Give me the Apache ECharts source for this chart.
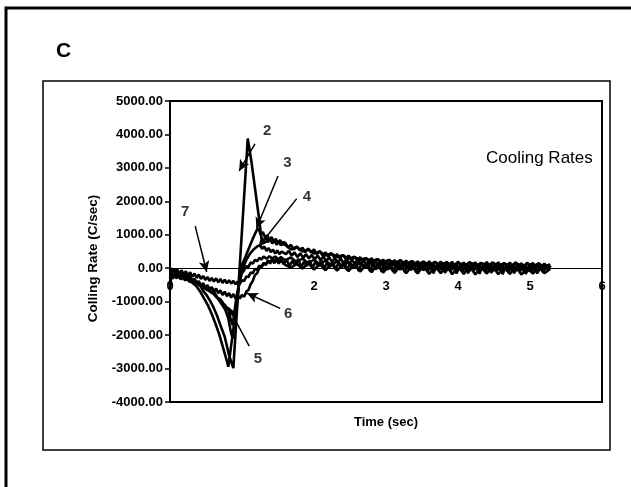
<!DOCTYPE html>
<html>
<head>
<meta charset="utf-8">
<script src="https://cdn.jsdelivr.net/npm/echarts@6/dist/echarts.min.js"></script>
<style>
html,body{margin:0;padding:0;background:#fff;}
#chart{width:631px;height:487px;}
</style>
</head>
<body>
<div id="chart"></div>
<script>
// ---- axis ticks ----
const yTicks = [-4000, -3000, -2000, -1000, 0, 1000, 2000, 3000, 4000, 5000];
const xTicks = [0, 1, 2, 3, 4, 5, 6];

// ---- transient part of each cooling-rate curve: [time (s), rate (C/s)] ----
const curve2 = [[0,-650],[0.02,-180],[0.04,-60],[0.06,-200],[0.09,-90],[0.12,-230],[0.15,-120],[0.18,-270],[0.21,-170],[0.24,-310],[0.27,-230],[0.30,-360],[0.34,-330],[0.38,-470],[0.42,-520],[0.46,-680],[0.50,-780],[0.55,-950],[0.60,-1150],[0.65,-1400],[0.70,-1700],[0.76,-2050],[0.82,-2600],[0.88,-2985],[0.93,-1270],[0.98,450],[1.03,2160],[1.08,3880],[1.13,3200],[1.18,2400],[1.23,1600],[1.27,900],[1.30,820],[1.33,930],[1.36,780],[1.39,880],[1.42,740],[1.45,840],[1.48,700],[1.51,800],[1.54,680],[1.57,780]];
const curve3 = [[0,-300],[0.02,-100],[0.04,-220],[0.06,-60],[0.09,-200],[0.12,-90],[0.15,-250],[0.18,-150],[0.21,-320],[0.24,-230],[0.27,-380],[0.30,-420],[0.36,-520],[0.42,-700],[0.48,-930],[0.53,-1120],[0.58,-1370],[0.63,-1650],[0.68,-1950],[0.72,-2250],[0.76,-2550],[0.79,-2780],[0.81,-2945],[0.83,-2900],[0.85,-2300],[0.89,-1700],[0.93,-1100],[0.97,-200],[1.00,100],[1.05,350],[1.10,620],[1.15,880],[1.20,1120],[1.23,1200],[1.26,1000],[1.29,1080],[1.32,920],[1.35,980],[1.38,850],[1.41,930],[1.44,800],[1.47,880],[1.50,760],[1.53,840],[1.56,720]];
const curve4 = [[0,-500],[0.02,-200],[0.04,-320],[0.06,-150],[0.09,-310],[0.12,-180],[0.15,-340],[0.18,-230],[0.21,-370],[0.24,-270],[0.27,-400],[0.30,-350],[0.36,-420],[0.42,-520],[0.48,-600],[0.54,-680],[0.60,-760],[0.66,-900],[0.72,-1080],[0.77,-1250],[0.81,-1500],[0.85,-1950],[0.87,-2100],[0.90,-1500],[0.93,-900],[0.97,-350],[1.01,0],[1.06,250],[1.11,430],[1.16,560],[1.21,650],[1.25,690],[1.28,580],[1.31,650],[1.34,520],[1.37,600],[1.40,480],[1.43,560],[1.46,440],[1.49,530],[1.52,420],[1.55,500]];
const curve5 = [[0,-400],[0.02,-150],[0.04,-260],[0.06,-160],[0.09,-290],[0.12,-190],[0.15,-320],[0.18,-230],[0.21,-360],[0.24,-280],[0.27,-410],[0.30,-330],[0.34,-460],[0.38,-400],[0.42,-540],[0.46,-500],[0.50,-620],[0.54,-600],[0.58,-730],[0.62,-740],[0.66,-880],[0.70,-930],[0.74,-1050],[0.77,-1120],[0.81,-1250],[0.84,-1500],[0.87,-1700],[0.89,-1400],[0.92,-900],[0.96,-450],[1.00,-150],[1.03,-60],[1.06,60],[1.09,40],[1.12,170],[1.15,140],[1.18,250],[1.21,210],[1.24,310],[1.27,260],[1.30,350],[1.34,280],[1.38,360],[1.42,290],[1.46,350],[1.50,270],[1.54,330]];
const curve6 = [[0,-200],[0.02,-80],[0.04,-200],[0.06,-100],[0.08,-250],[0.10,-140],[0.13,-290],[0.16,-180],[0.19,-330],[0.22,-220],[0.25,-370],[0.28,-270],[0.31,-420],[0.34,-320],[0.37,-470],[0.40,-380],[0.43,-530],[0.46,-440],[0.49,-590],[0.52,-500],[0.55,-640],[0.58,-560],[0.61,-700],[0.64,-610],[0.67,-750],[0.70,-660],[0.73,-800],[0.76,-700],[0.79,-840],[0.82,-740],[0.85,-880],[0.88,-770],[0.91,-900],[0.94,-800],[0.97,-910],[1.00,-800],[1.03,-850],[1.06,-700],[1.09,-650],[1.12,-480],[1.15,-380],[1.18,-200],[1.21,-150],[1.24,0],[1.27,20],[1.30,140],[1.33,110],[1.36,230],[1.39,180],[1.42,280],[1.45,200],[1.48,300],[1.51,210],[1.54,280]];
const curve7 = [[0,-100],[0.02,0],[0.04,-90],[0.06,-20],[0.08,-130],[0.10,-40],[0.13,-160],[0.16,-60],[0.19,-190],[0.22,-90],[0.25,-230],[0.28,-120],[0.31,-260],[0.34,-160],[0.37,-290],[0.40,-190],[0.43,-320],[0.46,-230],[0.49,-350],[0.52,-260],[0.55,-380],[0.58,-290],[0.61,-400],[0.64,-300],[0.67,-420],[0.70,-320],[0.73,-440],[0.76,-340],[0.79,-450],[0.82,-360],[0.85,-460],[0.88,-380],[0.91,-480],[0.94,-400],[0.97,-470],[1.00,-360],[1.03,-380],[1.06,-250],[1.09,-260],[1.12,-130],[1.15,-150],[1.18,-20],[1.21,-50],[1.24,80],[1.27,40],[1.30,160],[1.33,100],[1.36,220],[1.39,140],[1.42,250],[1.45,150],[1.48,260],[1.51,140],[1.54,230]];

// ---- noisy tails ----
const tailTime = [1.60,1.64,1.68,1.72,1.76,1.80,1.84,1.88,1.92,1.96,2.00,2.04,2.08,2.12,2.16,2.20,2.24,2.28,2.32,2.36,2.40,2.44,2.48,2.52,2.56,2.60,2.64,2.68,2.72,2.76,2.80,2.84,2.88,2.92,2.96,3.00,3.04,3.08,3.12,3.16,3.20,3.24,3.28,3.32,3.36,3.40,3.44,3.48,3.52,3.56,3.60,3.64,3.68,3.72,3.76,3.80,3.84,3.88,3.92,3.96,4.00,4.04,4.08,4.12,4.16,4.20,4.24,4.28,4.32,4.36,4.40,4.44,4.48,4.52,4.56,4.60,4.64,4.68,4.72,4.76,4.80,4.84,4.88,4.92,4.96,5.00,5.04,5.08,5.12,5.16,5.20,5.24,5.28];
const tailTimeC = [1.58,1.62,1.66,1.70,1.74,1.78,1.82,1.86,1.90,1.94,1.98,2.02,2.06,2.10,2.14,2.18,2.22,2.26,2.30,2.34,2.38,2.42,2.46,2.50,2.54,2.58,2.62,2.66,2.70,2.74,2.78,2.82,2.86,2.90,2.94,2.98,3.02,3.06,3.10,3.14,3.18,3.22,3.26,3.30,3.34,3.38,3.42,3.46,3.50,3.54,3.58,3.62,3.66,3.70,3.74,3.78,3.82,3.86,3.90,3.94,3.98,4.02,4.06,4.10,4.14,4.18,4.22,4.26,4.30,4.34,4.38,4.42,4.46,4.50,4.54,4.58,4.62,4.66,4.70,4.74,4.78,4.82,4.86,4.90,4.94,4.98,5.02,5.06,5.10,5.14,5.18,5.22,5.26];
const tailTimeD = [1.61,1.65,1.69,1.73,1.77,1.81,1.85,1.89,1.93,1.97,2.01,2.05,2.09,2.13,2.17,2.21,2.25,2.29,2.33,2.37,2.41,2.45,2.49,2.53,2.57,2.61,2.65,2.69,2.73,2.77,2.81,2.85,2.89,2.93,2.97,3.01,3.05,3.09,3.13,3.17,3.21,3.25,3.29,3.33,3.37,3.41,3.45,3.49,3.53,3.57,3.61,3.65,3.69,3.73,3.77,3.81,3.85,3.89,3.93,3.97,4.01,4.05,4.09,4.13,4.17,4.21,4.25,4.29,4.33,4.37,4.41,4.45,4.49,4.53,4.57,4.61,4.65,4.69,4.73,4.77,4.81,4.85,4.89,4.93,4.97,5.01,5.05,5.09,5.13,5.17,5.21,5.25,5.29];
const tail2 = [760,620,700,560,650,540,610,480,590,470, 560,420,510,380,470,350,450,330,420,300, 400,280,380,250,340,230,330,220,300,200, 300,170,280,160,260,150,250,140,240,130, 250,110,230,100,220,90,210,100,200,80, 210,70,190,90,200,60,180,80,190,50, 200,60,170,40,190,70,180,30,160,60, 190,40,170,60,180,20,160,50,170,30, 180,40,150,20,170,50,160,10,150,40, 140,30,90];
const tail4 = [420,520,380,470,330,450,310,420,290,400, 260,380,240,350,210,330,190,300,170,290, 150,270,130,260,110,240,90,250,80,220, 60,230,50,210,30,200,20,190,40,180, 10,170,-10,190,0,160,-20,170,10,150, -30,160,-10,140,-40,170,0,150,-30,130, -20,150,-50,140,-10,160,-40,130,-20,150, -50,120,-30,150,-60,130,-20,140,-50,120, -40,130,-60,110,-30,140,-50,120,-40,100, -30,90,20];
const tail6 = [120,260,60,220,90,280,30,190,70,230, 10,200,50,240,-20,170,30,210,-40,160, 20,190,-60,150,-10,200,-80,130,0,180, -90,140,-40,190,-110,120,-50,170,-100,110, -30,160,-120,100,-60,150,-130,90,-40,140, -110,110,-150,80,-70,130,-140,70,-90,120, -160,60,-100,110,-150,50,-80,100,-170,70, -110,120,-140,40,-90,100,-180,60,-120,90, -150,50,-100,110,-170,30,-110,80,-160,40, -120,20,-40];
const tailTimeB = [1.60,1.68,1.76,1.84,1.92,2.00,2.08,2.16,2.24,2.32,2.40,2.48,2.56,2.64,2.72,2.80,2.88,2.96,3.04,3.12,3.20,3.28,3.36,3.44,3.52,3.60,3.68,3.76,3.84,3.92,4.00,4.08,4.16,4.24,4.32,4.40,4.48,4.56,4.64,4.72,4.80,4.88,4.96,5.04,5.12,5.20,5.28];
const tail3 = [700,560,640,500,560,440,500,380,440,330, 390,280,340,250,300,210,270,180,250,160, 230,130,210,110,200,90,190,80,180,70, 170,60,180,50,160,40,170,60,150,30, 160,40,140,20,150,30,120];
const tail5 = [240,320,180,290,150,260,110,230,90,210, 60,190,40,180,20,170,0,150,-20,160, -40,140,-30,130,-60,120,-50,110,-70,130, -60,100,-80,120,-50,90,-90,110,-70,100, -80,90,-100,80,-70,100,20];
const tail7 = [100,20,130,-10,150,-40,120,-60,140,-70, 110,-90,130,-100,90,-120,110,-130,80,-140, 100,-150,70,-160,90,-170,60,-150,80,-180, 50,-170,70,-190,40,-160,60,-180,30,-170, 50,-190,20,-160,40,-150,-20];

// ---- curve annotations (numbers with arrows), in data units ----
const labelNames = ['2', '3', '4', '5', '6', '7'];
const labelAt = [[1.35, 4100], [1.63, 3140], [1.90, 2120], [1.22, -2700], [1.64, -1350], [0.21, 1680]];
const arrowFrom = [[1.18, 3720], [1.50, 2760], [1.76, 2080], [1.10, -2330], [1.53, -1200], [0.35, 1260]];
const arrowTo = [[0.96, 2910], [1.20, 1190], [1.23, 640], [0.81, -1160], [1.07, -750], [0.51, -110]];

function join(trans, times, tail) {
  return trans.concat(times.map((t, i) => [t, tail[i]]));
}
const curves = [
  join(curve2, tailTime, tail2),
  join(curve3, tailTimeB, tail3),
  join(curve4, tailTimeD, tail4),
  join(curve5, tailTimeB, tail5),
  join(curve6, tailTimeC, tail6),
  join(curve7, tailTimeB, tail7)
];

const FONT = "'Liberation Sans', Arial, Helvetica, sans-serif";
const chart = echarts.init(document.getElementById('chart'), null, {renderer: 'canvas'});

const series = curves.map((d, i) => ({
  type: 'line',
  name: labelNames[i],
  data: d,
  showSymbol: false,
  symbol: 'none',
  lineStyle: {color: '#000', width: 2.6},
  z: 3,
  silent: true
}));

series.push({
  type: 'scatter',
  name: 'labels',
  data: labelAt.map((p, i) => ({value: p, name: labelNames[i]})),
  symbolSize: 0,
  silent: true,
  z: 5,
  label: {
    show: true, position: 'inside', formatter: '{b}',
    color: '#000', fontSize: 15, fontWeight: 'bold', fontFamily: FONT
  },
  markLine: {
    silent: true,
    symbol: ['none', 'arrow'],
    symbolSize: [8, 11],
    label: {show: false},
    lineStyle: {color: '#000', width: 1.5, type: 'solid'},
    data: arrowFrom.map((p, i) => [{coord: p}, {coord: arrowTo[i]}])
  }
});

chart.setOption({
  animation: false,
  backgroundColor: '#fff',
  title: [
    {text: 'C', left: 56, top: 41, padding: 0, textStyle: {fontSize: 21, fontWeight: 'bold', color: '#000', fontFamily: FONT}},
    {text: 'Cooling Rates', left: 486, top: 150, padding: 0, textStyle: {fontSize: 17, fontWeight: 'normal', color: '#000', fontFamily: FONT}}
  ],
  graphic: [
    {type: 'rect', shape: {x: 6, y: 8, width: 700, height: 600}, style: {fill: 'none', stroke: '#000', lineWidth: 3}, silent: true},
    {type: 'rect', shape: {x: 43, y: 81, width: 567, height: 369}, style: {fill: 'none', stroke: '#000', lineWidth: 1.5}, silent: true}
  ],
  grid: {left: 170, top: 101, right: 29, bottom: 85, containLabel: false, outerBoundsMode: 'none', show: true, borderColor: '#000', borderWidth: 2, backgroundColor: 'transparent'},
  xAxis: {
    type: 'value', min: 0, max: 6, interval: 1,
    name: 'Time (sec)', nameLocation: 'middle', nameGap: 14, nameMoveOverlap: false,
    nameTextStyle: {fontSize: 13, fontWeight: 'bold', color: '#000', fontFamily: FONT},
    axisLine: {onZero: true, lineStyle: {color: '#000', width: 1.2}},
    axisTick: {show: false},
    axisLabel: {
      color: '#000', fontSize: 13, fontWeight: 'bold', fontFamily: FONT, margin: -122,
      formatter: v => (xTicks.indexOf(v) > 1 || v === 0) ? String(v) : ''
    },
    splitLine: {show: false}
  },
  yAxis: {
    type: 'value', min: yTicks[0], max: yTicks[yTicks.length - 1], interval: 1000,
    name: 'Colling Rate (C/sec)', nameLocation: 'middle', nameGap: 67,
    nameTextStyle: {fontSize: 13.5, fontWeight: 'bold', color: '#000', fontFamily: FONT, padding: [0, 14, 0, 0]},
    axisLine: {lineStyle: {color: '#000', width: 2}},
    axisTick: {show: true, length: 5, lineStyle: {color: '#000', width: 1.5}},
    axisLabel: {
      color: '#000', fontSize: 13, fontWeight: 'bold', fontFamily: FONT, margin: 7,
      formatter: v => v.toFixed(2)
    },
    splitLine: {show: false}
  },
  series: series
});
</script>
</body>
</html>
